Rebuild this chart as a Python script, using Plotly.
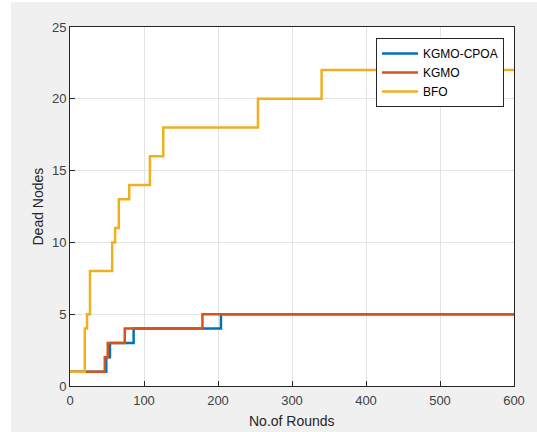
import plotly.graph_objects as go

# Data (step change points)
cpoa_x = [0, 49, 54, 86, 204, 600]
cpoa_y = [1, 2, 3, 4, 5, 5]

kgmo_x = [0, 47, 51, 74, 179, 600]
kgmo_y = [1, 2, 3, 4, 5, 5]

bfo_x = [0, 20, 23, 27, 57, 61, 66, 80, 108, 126, 254, 340, 600]
bfo_y = [1, 4, 5, 8, 10, 11, 13, 14, 16, 18, 20, 22, 22]

x_ticks = [0, 100, 200, 300, 400, 500, 600]
y_ticks = [0, 5, 10, 15, 20, 25]

FONT = "Liberation Sans, Arial, Helvetica, sans-serif"
TXT = "#262626"
PW, PH = 444, 359  # plot area size in px

fig = go.Figure()
fig.add_trace(go.Scatter(x=cpoa_x, y=cpoa_y, mode="lines", line_shape="hv",
                         line=dict(color="#0072BD", width=2.5), name="KGMO-CPOA"))
fig.add_trace(go.Scatter(x=kgmo_x, y=kgmo_y, mode="lines", line_shape="hv",
                         line=dict(color="#D95319", width=2.5), name="KGMO"))
fig.add_trace(go.Scatter(x=bfo_x, y=bfo_y, mode="lines", line_shape="hv",
                         line=dict(color="#EDB120", width=2.5), name="BFO"))

axis_common = dict(
    showgrid=True, gridcolor="#e3e3e3", gridwidth=1,
    showline=True, linecolor=TXT, linewidth=1, mirror=True,
    ticks="inside", ticklen=5, tickcolor=TXT, tickwidth=1,
    zeroline=False, automargin=False,
    tickfont=dict(family=FONT, size=13, color="#404040"),
)

fig.update_layout(
    width=537, height=432,
    margin=dict(l=70, r=23, t=27, b=46),
    paper_bgcolor="#f0f0f0", plot_bgcolor="white",
    font=dict(family=FONT, color=TXT),
    xaxis=dict(range=[0, 600], tickvals=x_ticks, ticklabelstandoff=2, **axis_common),
    yaxis=dict(range=[0, 25], tickvals=y_ticks, **axis_common),
    legend=dict(x=(504 - 70) / PW, y=(386 - 38) / PH, xanchor="right", yanchor="top",
                bgcolor="white", bordercolor=TXT, borderwidth=1,
                font=dict(family=FONT, size=12, color="#000000"),
                tracegroupgap=0, itemwidth=36),
    showlegend=True,
    annotations=[
        dict(text="No.of Rounds", xref="paper", yref="paper", x=0.5, y=(386 - 421) / PH,
             xanchor="center", yanchor="middle", showarrow=False,
             font=dict(family=FONT, size=14, color="#262626")),
        dict(text="Dead Nodes", xref="paper", yref="paper", x=(37 - 70) / PW, y=0.5,
             xanchor="center", yanchor="middle", showarrow=False, textangle=-90,
             font=dict(family=FONT, size=14, color="#262626")),
    ],
    shapes=[
        dict(type="rect", xref="paper", yref="paper",
             x0=-70 / PW, x1=-59 / PW, y0=-46 / PH - 0.01, y1=(432 - 46) / PH + 0.01,
             fillcolor="white", line=dict(width=0), layer="below"),
        dict(type="rect", xref="paper", yref="paper",
             x0=-70 / PW, x1=1.2, y0=(432 - 46 - 2) / PH, y1=(432 - 46) / PH + 0.01,
             fillcolor="white", line=dict(width=0), layer="below"),
    ],
)

fig.write_html("out.html", config={"displayModeBar": False},
               post_script="document.body.style.margin='0';")
